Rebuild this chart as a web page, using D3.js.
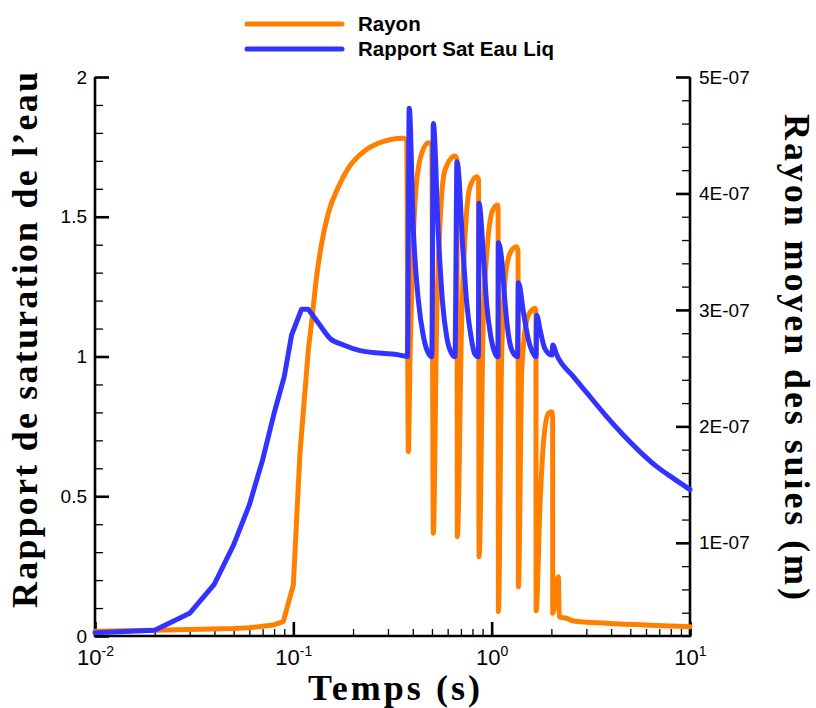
<!DOCTYPE html>
<html><head><meta charset="utf-8">
<script src="https://cdn.jsdelivr.net/npm/d3@7/dist/d3.min.js"></script>
<style>body{margin:0;background:#fff}svg{display:block}</style>
</head><body>
<svg id="c" width="816" height="708"></svg>
<script>
// ---- data ----
const timeRapport = [0.01,0.02,0.03,0.04,0.05,0.06,0.07,0.08,0.09,0.098,0.110,0.119,0.134,0.153,0.179,0.217,0.344,0.376,
  0.384,0.403,0.427,0.453,0.480,0.499,
  0.508,0.538,0.566,0.593,0.627,0.653,
  0.669,0.718,0.749,0.787,0.82,0.857,
  0.863,0.907,0.943,0.99,1.04,1.076,
  1.081,1.124,1.161,1.20,1.263,1.35,
  1.364,1.448,1.533,1.62,1.675,
  1.687,1.754,1.85,2.010,2.032,2.13,2.582,3.134,3.80,4.61,5.60,6.80,8.24,10];
const rapport = [0.012,0.021,0.081,0.186,0.326,0.469,0.63,0.797,0.928,1.077,1.169,1.169,1.119,1.065,1.041,1.021,1.005,1.000,
  1.888,1.45,1.20,1.071,1.011,0.999,
  1.834,1.44,1.19,1.071,1.011,0.999,
  1.697,1.369,1.19,1.071,1.011,0.999,
  1.548,1.369,1.19,1.071,1.011,0.999,
  1.407,1.345,1.214,1.107,1.023,0.999,
  1.264,1.155,1.059,1.011,0.999,
  1.148,1.095,1.03,1.005,1.041,1.005,0.928,0.856,0.785,0.719,0.659,0.606,0.564,0.524];

const timeRayon = [0.01,0.02,0.05,0.06,0.079,0.089,0.100,0.108,0.119,0.124,0.131,0.139,0.150,0.169,0.189,0.221,0.268,0.359,0.373,
  0.380,0.388,0.400,0.416,0.444,0.480,0.499,
  0.508,0.528,0.550,0.582,0.653,0.669,
  0.671,0.706,0.734,0.778,0.841,0.859,
  0.864,0.907,0.951,1.013,1.069,1.078,
  1.081,1.124,1.183,1.263,1.339,1.358,
  1.364,1.419,1.503,1.593,1.656,1.672,
  1.675,1.754,1.824,1.932,2.010,2.030,
  2.032,2.168,2.193,2.392,2.582,3.80,8.22,10];
const rayon = [0.240,0.250,0.265,0.271,0.294,0.323,0.638,1.769,2.656,2.913,3.285,3.572,3.830,4.058,4.216,4.345,4.431,4.474,4.459,
  1.783,2.630,3.489,4.058,4.345,4.436,4.416,
  1.082,2.913,3.772,4.202,4.322,4.288,
  1.053,2.913,3.629,4.058,4.144,4.116,
  0.881,2.913,3.543,3.858,3.901,3.858,
  0.409,2.630,3.343,3.515,3.543,3.497,
  0.623,2.484,2.913,2.999,3.014,2.956,
  0.417,1.339,1.855,2.112,2.126,2.055,
  0.395,0.709,0.366,0.352,0.329,0.309,0.286,0.280].map(v => v * 1e-7);

const xMajor = [0.01, 0.1, 1, 10];
const xExp = ["-2", "-1", "0", "1"];
const leftMajor = [0, 0.5, 1, 1.5, 2];
const leftLabels = ["0", "0.5", "1", "1.5", "2"];
const rightMajor = [1e-7, 2e-7, 3e-7, 4e-7, 5e-7];
const rightLabels = ["1E-07", "2E-07", "3E-07", "4E-07", "5E-07"];
const seriesNames = ["Rayon", "Rapport Sat Eau Liq"];
const colors = ["#ff8000", "#3333ff"];

// ---- layout ----
const L = 95, R = 690, T = 77, B = 636;
const svg = d3.select("#c");
const x = d3.scaleLog().domain([0.01, 10]).range([L, R]);
const yL = d3.scaleLinear().domain([0, 2]).range([B, T]);
const yR = d3.scaleLinear().domain([2e-8, 5e-7]).range([B, T]);

const xMinor = [];
for (let d = 0.01; d < 10; d *= 10) for (let k = 2; k <= 9; k++) xMinor.push(d * k);
const leftMinor = d3.range(0, 21).map(i => i / 10).filter(v => Math.abs(v * 2 - Math.round(v * 2)) > 1e-6);
const rightMinor = d3.range(1, 26).map(i => i * 2e-8).filter(v => Math.abs(v / 1e-7 - Math.round(v / 1e-7)) > 1e-6);

const font = "'Liberation Sans', Arial, sans-serif";

function styleAxis(g, w) {
  g.select(".domain").remove();
  g.selectAll(".tick line").attr("stroke", "#000").attr("stroke-width", w);
}
// bottom
svg.append("g").attr("transform", `translate(0,${B})`)
  .call(d3.axisBottom(x).tickValues(xMinor).tickSize(-7).tickFormat(""))
  .call(g => styleAxis(g, 1.3));
const gxB = svg.append("g").attr("transform", `translate(0,${B})`)
  .call(d3.axisBottom(x).tickValues(xMajor).tickSize(-14).tickPadding(0).tickFormat(""))
  .call(g => styleAxis(g, 2.6));
gxB.selectAll(".tick text").remove();
gxB.selectAll(".tick").append("text")
  .attr("y", 29).attr("text-anchor", "middle").attr("fill", "#000")
  .style("font-family", font).style("font-size", "22px")
  .each(function(d, i) {
    const t = d3.select(this);
    t.append("tspan").text("10");
    t.append("tspan").attr("dy", -9).style("font-size", "14px").text(xExp[i]);
  });
// left
svg.append("g").attr("transform", `translate(${L},0)`)
  .call(d3.axisLeft(yL).tickValues(leftMinor).tickSize(-8).tickFormat(""))
  .call(g => styleAxis(g, 1.3));
svg.append("g").attr("transform", `translate(${L},0)`)
  .call(d3.axisLeft(yL).tickValues(leftMajor).tickSize(-14).tickPadding(8).tickFormat((d, i) => leftLabels[i]))
  .call(g => styleAxis(g, 2.6))
  .call(g => g.selectAll("text").attr("x", -8).attr("fill", "#000").style("font-family", font).style("font-size", "19px"));
// right
svg.append("g").attr("transform", `translate(${R},0)`)
  .call(d3.axisRight(yR).tickValues(rightMinor).tickSize(-8).tickFormat(""))
  .call(g => styleAxis(g, 1.3));
svg.append("g").attr("transform", `translate(${R},0)`)
  .call(d3.axisRight(yR).tickValues(rightMajor).tickSize(-14).tickFormat((d, i) => rightLabels[i]))
  .call(g => styleAxis(g, 2.6))
  .call(g => g.selectAll("text").attr("x", 9).attr("fill", "#000").style("font-family", font).style("font-size", "19px"));

// axis lines
svg.append("path").attr("d", `M${L},${T}V${B}H${R}V${T}`).attr("fill", "none").attr("stroke", "#000").attr("stroke-width", 2.6);

// lines: early part piecewise linear (coarse output steps), oscillating part smoothed
function drawSeries(times, vals, yScale, split, color) {
  const pts = times.map((t, i) => [x(t), yScale(vals[i])]);
  const k = times.findIndex(t => t >= split);
  const linPart = pts.slice(0, k + 1), smPart = pts.slice(k);
  const p = d3.path();
  d3.line().context(p)(linPart);
  const s = d3.line().curve(d3.curveMonotoneX)(smPart);
  svg.append("path").attr("d", p.toString() + s.replace(/^M/, "L"))
    .attr("fill", "none").attr("stroke", color).attr("stroke-width", 5)
    .attr("stroke-linejoin", "round").attr("stroke-linecap", "round");
}
drawSeries(timeRayon, rayon, yR, 0.119, colors[0]);
drawSeries(timeRapport, rapport, yL, 0.119, colors[1]);

// legend
const lg = svg.append("g");
seriesNames.forEach((n, i) => {
  const yy = 24 + i * 25;
  lg.append("line").attr("x1", 247).attr("x2", 342).attr("y1", yy).attr("y2", yy)
    .attr("stroke", colors[i]).attr("stroke-width", 5).attr("stroke-linecap", "round");
  lg.append("text").attr("x", 358).attr("y", yy).attr("dy", "0.35em")
    .style("font-family", font).style("font-weight", "bold").style("font-size", "20.5px").text(n);
});

// titles
const serif = "'Liberation Serif', 'Times New Roman', serif";
svg.append("text").attr("x", 394).attr("y", 700).attr("text-anchor", "middle")
  .attr("textLength", 172).attr("lengthAdjust", "spacing")
  .style("font-family", serif).style("font-weight", "bold").style("font-size", "36px").text("Temps (s)");
svg.append("text").attr("transform", "translate(37,340) rotate(-90)").attr("text-anchor", "middle")
  .attr("textLength", 536).attr("lengthAdjust", "spacing")
  .style("font-family", serif).style("font-weight", "bold").style("font-size", "36px").text("Rapport de saturation de l’eau");
svg.append("text").attr("transform", "translate(785,357) rotate(90)").attr("text-anchor", "middle")
  .attr("textLength", 486).attr("lengthAdjust", "spacing")
  .style("font-family", serif).style("font-weight", "bold").style("font-size", "36px").text("Rayon moyen des suies (m)");
</script>
</body></html>
